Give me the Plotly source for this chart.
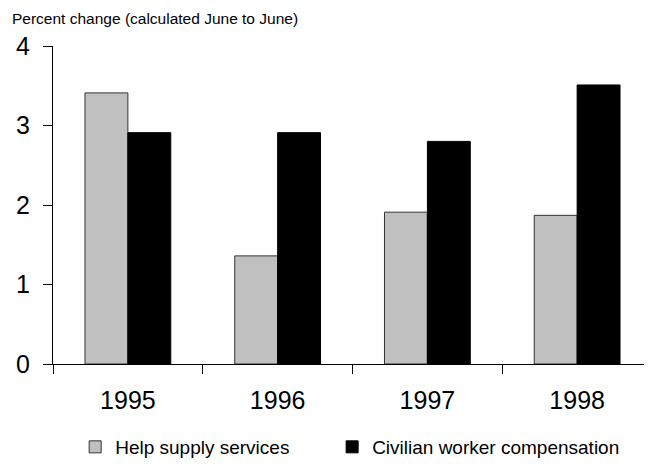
import plotly.graph_objects as go

years = ["1995", "1996", "1997", "1998"]
help_supply = [3.41, 1.36, 1.91, 1.87]
civilian_comp = [2.91, 2.91, 2.80, 3.51]

fig = go.Figure()
fig.add_trace(go.Bar(
    x=years, y=help_supply, name="Help supply services",
    marker=dict(color="#c0c0c0", line=dict(color="#333333", width=1)),
    legend="legend",
))
fig.add_trace(go.Bar(
    x=years, y=civilian_comp, name="Civilian worker compensation",
    marker=dict(color="#000000", line=dict(color="#000000", width=1)),
    legend="legend2",
))

# page body has an 8px margin, so the figure is offset by that
leg = dict(orientation="h", xanchor="left", y=-0.261, yanchor="middle",
           font=dict(size=19), itemwidth=30)
fig.update_layout(
    width=652, height=466,
    margin=dict(l=45, r=8, t=38, b=110),
    paper_bgcolor="white", plot_bgcolor="white",
    font=dict(family="Liberation Sans, Arial", color="black"),
    barmode="group", bargap=0.427, bargroupgap=0,
    showlegend=True,
    legend=dict(leg, x=0.037),
    legend2=dict(leg, x=0.466),
    annotations=[dict(text="Percent change (calculated June to June)", xref="paper", yref="paper",
                      x=-43/599, y=1 + 38/318, xanchor="left", yanchor="top",
                      showarrow=False, font=dict(size=15.5))],
)
fig.update_xaxes(
    showline=True, linecolor="black", linewidth=1, automargin=False,
    ticks="outside", tickson="boundaries", ticklen=9, tickcolor="black",
    tickfont=dict(size=25), showgrid=False, ticklabelstandoff=14,
)
fig.update_yaxes(
    range=[0, 4], dtick=1, showline=True, linecolor="black", linewidth=1, automargin=False,
    ticks="outside", ticklen=9, tickcolor="black", tickfont=dict(size=25),
    showgrid=False, zeroline=False, ticklabelstandoff=8,
)

fig.write_html("out.html")
